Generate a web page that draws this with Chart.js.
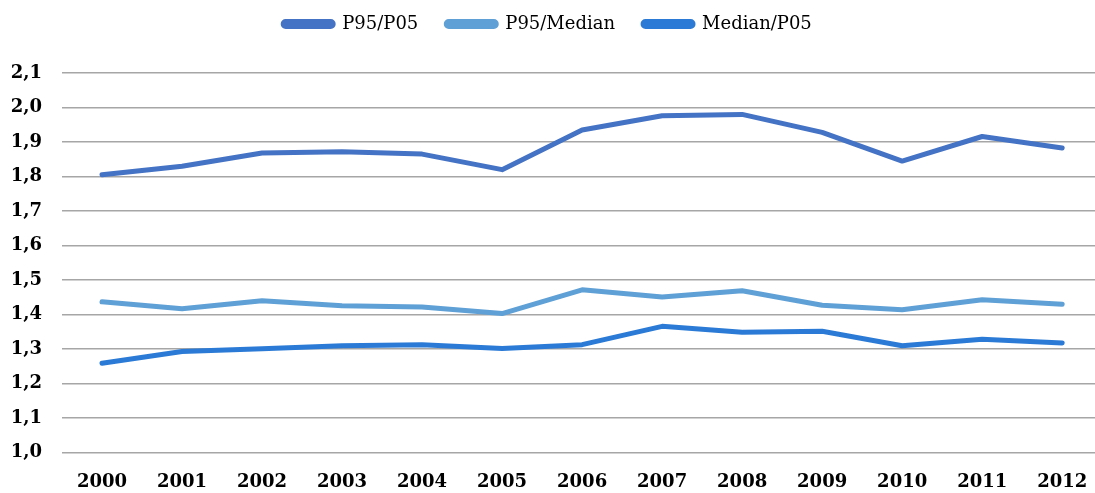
<!DOCTYPE html>
<html>
<head>
<meta charset="utf-8">
<script src="https://cdn.jsdelivr.net/npm/chart.js@4.4.1/dist/chart.umd.min.js"></script>
<style>
html,body{margin:0;padding:0;background:#fff;overflow:hidden;}
#wrap{width:1095px;height:493px;position:relative;}
</style>
</head>
<body>
<div id="wrap"><canvas id="c"></canvas></div>
<script>
const years = ['2000','2001','2002','2003','2004','2005','2006','2007','2008','2009','2010','2011','2012'];
const p95p05 = [1.805,1.830,1.868,1.872,1.865,1.820,1.935,1.976,1.980,1.928,1.845,1.916,1.883];
const p95median = [1.437,1.417,1.440,1.426,1.422,1.403,1.472,1.451,1.469,1.427,1.414,1.443,1.430];
const medianp05 = [1.259,1.293,1.301,1.310,1.313,1.302,1.313,1.366,1.349,1.352,1.310,1.329,1.318];
const seriesNames = ['P95/P05','P95/Median','Median/P05'];
const yTicks = [1.0,1.1,1.2,1.3,1.4,1.5,1.6,1.7,1.8,1.9,2.0,2.1];

const colors = ['#4472C4','#5FA0D6','#2B7BD6'];
function pts(arr){ return arr.map((v,i)=>({x:i,y:v})); }
const allSeries = [p95p05,p95median,medianp05];

const legendHeight = {
  id: 'legendHeight',
  beforeInit(chart) {
    const lg = chart.legend;
    const origFit = lg.fit;
    lg.fit = function() {
      origFit.call(this);
      this.height = 73;
    };
    const origDraw = lg.draw;
    lg.draw = function() {
      const ctx = this.ctx;
      ctx.save();
      ctx.translate(0, -13);
      origDraw.call(this);
      ctx.restore();
    };
  }
};

new Chart(document.getElementById('c'), {
  type: 'line',
  data: {
    datasets: allSeries.map((s,k)=>({
      label: seriesNames[k],
      data: pts(s),
      borderColor: colors[k],
      backgroundColor: colors[k],
      borderWidth: 5,
      pointRadius: 0,
      pointHoverRadius: 0,
      tension: 0,
      borderCapStyle: 'round',
      borderJoinStyle: 'round'
    }))
  },
  plugins: [legendHeight],
  options: {
    responsive: true,
    maintainAspectRatio: false,
    animation: false,
    layout: { padding: 0 },
    plugins: {
      tooltip: { enabled: false },
      legend: {
        position: 'top',
        labels: {
          boxWidth: 50,
          boxHeight: 5,
          useBorderRadius: true,
          borderRadius: 2.5,
          padding: 28,
          color: '#000',
          font: { family: 'DejaVu Serif', size: 18 }
        }
      }
    },
    scales: {
      x: {
        type: 'linear',
        min: -0.5,
        max: 12.41,
        afterBuildTicks: (axis) => { axis.ticks = years.map((y,i)=>({value:i})); },
        afterFit: (axis) => { axis.height = 40.3; axis.paddingLeft = 0; axis.paddingRight = 0; },
        ticks: {
          callback: (v) => years[v] !== undefined ? years[v] : '',
          color: '#000',
          padding: 19,
          maxRotation: 0,
          autoSkip: false,
          font: { family: 'DejaVu Serif', size: 18, weight: 'bold' }
        },
        grid: { display: false, drawTicks: false },
        border: { display: false }
      },
      y: {
        min: 1.0,
        max: 2.1,
        afterBuildTicks: (axis) => { axis.ticks = yTicks.map(v=>({value:v})); },
        afterFit: (axis) => { axis.width = 62; axis.paddingTop = 0; axis.paddingBottom = 0; },
        ticks: {
          callback: (v) => v.toFixed(1).replace('.', ','),
          color: '#000',
          padding: 20,
          font: { family: 'DejaVu Serif', size: 18, weight: 'bold' }
        },
        grid: { color: '#A6A6A6', lineWidth: 1.5, drawTicks: false },
        border: { display: false }
      }
    }
  }
});
</script>
</body>
</html>
